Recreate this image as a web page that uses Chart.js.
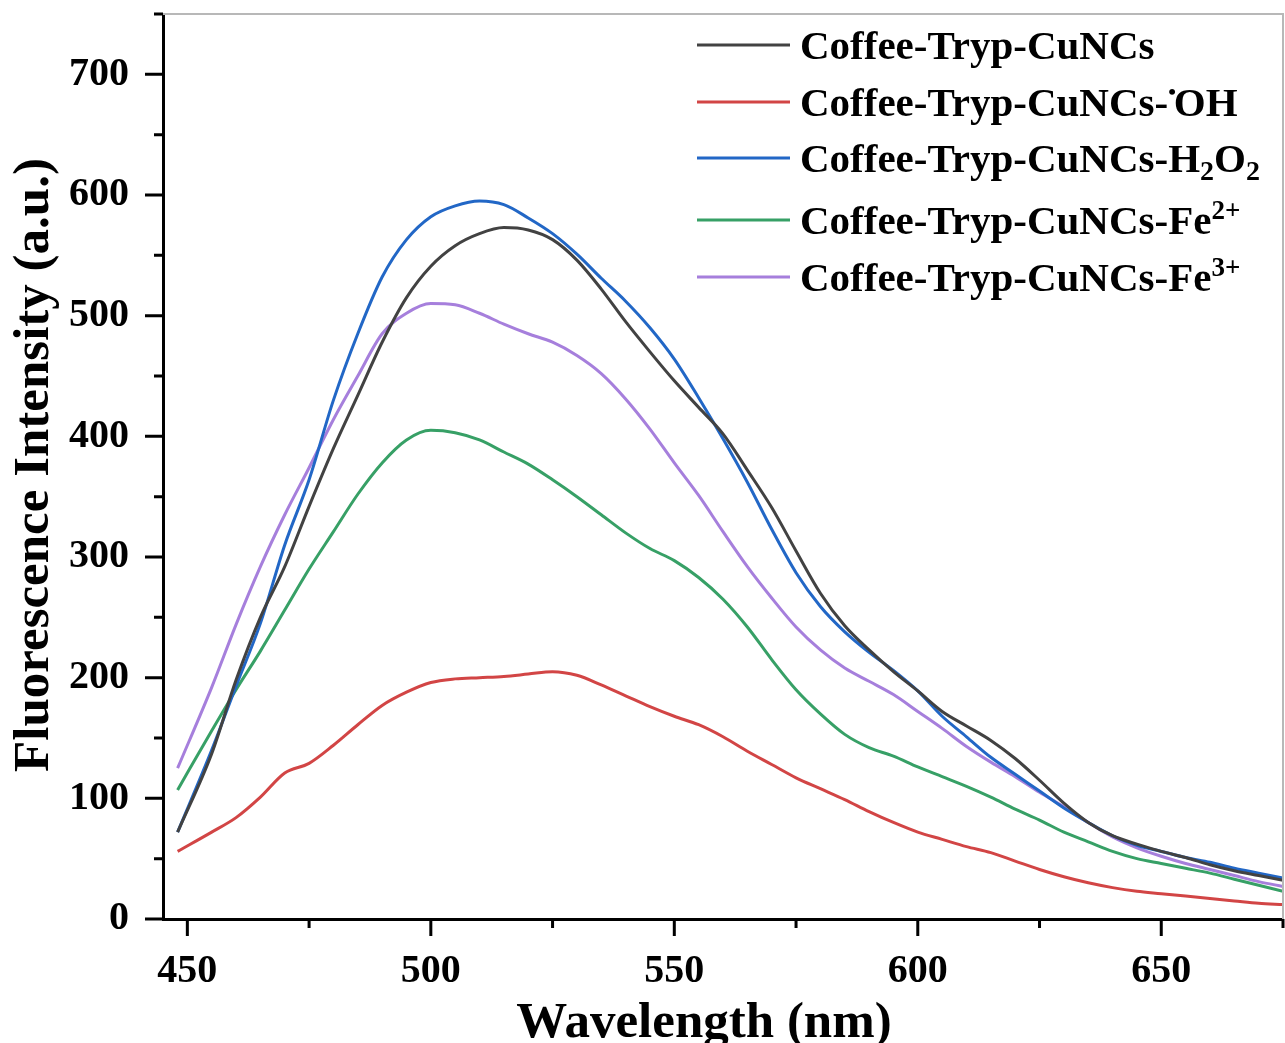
<!DOCTYPE html>
<html>
<head>
<meta charset="utf-8">
<title>Fluorescence spectra</title>
<script src="https://cdn.jsdelivr.net/npm/chart.js@4.4.1/dist/chart.umd.min.js"></script>
<style>
  html, body { margin: 0; padding: 0; background: #ffffff; }
  #wrap { position: relative; width: 1285px; height: 1043px; }
</style>
</head>
<body>
<div id="wrap"><canvas id="spectraChart"></canvas></div>
<script>
// wavelength grid (nm) shared by every spectrum
const wavelengths = [448, 455, 460, 465, 470, 475, 480, 485, 490, 495, 500, 505, 510, 515, 520, 525, 530, 535, 540, 545,
  550, 555, 560, 565, 570, 575, 580, 585, 590, 595, 600, 605, 610, 615, 620, 625, 630, 635, 640, 645,
  650, 655, 660, 665, 670, 675];

// fluorescence intensity (a.u.)
const cuNCs = [72, 137, 198, 250, 292, 342, 390, 434, 478, 515, 541, 558, 568, 573, 571, 563, 546, 522, 495, 470,
  446, 424, 402, 372, 341, 305, 270, 243, 223, 205, 189, 172, 160, 148, 133, 115, 96, 80, 69, 62,
  56, 51, 45, 40, 36, 32];
const cuNCsOH = [56, 72, 84, 101, 121, 129, 144, 161, 177, 188, 196, 199, 200, 201, 203, 205, 202, 194, 185, 176,
  168, 161, 151, 139, 128, 117, 108, 99, 89, 80, 72, 66, 60, 55, 48, 41, 35, 30, 26, 23,
  21, 19, 17, 15, 13, 12];
const cuNCsH2O2 = [72, 140, 193, 245, 310, 364, 430, 485, 532, 563, 582, 591, 595, 592, 581, 568, 551, 531, 512, 490,
  464, 432, 398, 362, 323, 287, 259, 238, 221, 206, 189, 168, 151, 134, 120, 106, 92, 80, 69, 61,
  56, 51, 47, 42, 38, 34];
const cuNCsFe2 = [107, 156, 190, 222, 256, 290, 321, 352, 378, 397, 405, 403, 397, 387, 377, 364, 350, 335, 320, 307,
  297, 283, 265, 242, 215, 190, 170, 153, 142, 135, 126, 118, 110, 101, 91, 82, 72, 64, 56, 50,
  46, 42, 38, 33, 28, 23];
const cuNCsFe3 = [125, 192, 244, 292, 335, 374, 414, 450, 485, 502, 510, 509, 502, 493, 485, 478, 467, 452, 431, 406,
  378, 351, 321, 292, 266, 242, 223, 208, 197, 186, 172, 158, 143, 130, 118, 105, 93, 80, 68, 59,
  52, 46, 41, 36, 31, 27];

const seriesNames = ['Coffee-Tryp-CuNCs', 'Coffee-Tryp-CuNCs-\u2022OH', 'Coffee-Tryp-CuNCs-H\u2082O\u2082',
  'Coffee-Tryp-CuNCs-Fe\u00b2\u207a', 'Coffee-Tryp-CuNCs-Fe\u00b3\u207a'];
const seriesValues = [cuNCs, cuNCsOH, cuNCsH2O2, cuNCsFe2, cuNCsFe3];
const seriesColors = ['#424242', '#d24545', '#2267c6', '#37a066', '#a67fdc'];

// legend text split into normal / sub / sup runs
const legendRuns = [
  [['Coffee-Tryp-CuNCs', '']],
  [['Coffee-Tryp-CuNCs-', ''], ['\u2022', 'dot'], ['OH', '']],
  [['Coffee-Tryp-CuNCs-H', ''], ['2', 'sub'], ['O', ''], ['2', 'sub']],
  [['Coffee-Tryp-CuNCs-Fe', ''], ['2+', 'sup']],
  [['Coffee-Tryp-CuNCs-Fe', ''], ['3+', 'sup']]
];

const xMajorTicks = [450, 500, 550, 600, 650];
const xMinorTicks = [475, 525, 575, 625, 675];
const yMajorTicks = [0, 100, 200, 300, 400, 500, 600, 700];
const yMinorTicks = [50, 150, 250, 350, 450, 550, 650, 750];

const serif = "'Liberation Serif', 'Times New Roman', 'DejaVu Serif', serif";

const axisDecor = {
  id: 'axisDecor',
  afterDraw(chart) {
    const { ctx, chartArea: area, scales: { x, y } } = chart;
    ctx.save();

    // thin grey frame on top and right
    ctx.strokeStyle = '#b8b8b8';
    ctx.lineWidth = 2;
    ctx.beginPath();
    ctx.moveTo(area.left, area.top);
    ctx.lineTo(area.right, area.top);
    ctx.lineTo(area.right, area.bottom);
    ctx.stroke();

    // outward tick marks
    ctx.strokeStyle = '#000000';
    ctx.lineWidth = 3;
    ctx.beginPath();
    xMajorTicks.forEach((v) => { const px = x.getPixelForValue(v); ctx.moveTo(px, area.bottom); ctx.lineTo(px, area.bottom + 17); });
    xMinorTicks.forEach((v) => { const px = x.getPixelForValue(v); ctx.moveTo(px, area.bottom); ctx.lineTo(px, area.bottom + 9); });
    yMajorTicks.forEach((v) => { const py = y.getPixelForValue(v); ctx.moveTo(area.left, py); ctx.lineTo(area.left - 18, py); });
    yMinorTicks.forEach((v) => { const py = y.getPixelForValue(v); ctx.moveTo(area.left, py); ctx.lineTo(area.left - 9, py); });
    ctx.stroke();

    // axis titles
    ctx.fillStyle = '#000000';
    ctx.font = `bold 51px ${serif}`;
    ctx.textAlign = 'center';
    ctx.textBaseline = 'alphabetic';
    ctx.fillText('Wavelength (nm)', 704, 1037);
    ctx.translate(48, 465);
    ctx.rotate(-Math.PI / 2);
    ctx.fillText('Fluorescence Intensity (a.u.)', 0, 0);
    ctx.restore();

    // legend
    ctx.save();
    const rowLines = [45, 102, 158, 220, 277];
    legendRuns.forEach((runs, i) => {
      const ly = rowLines[i];
      ctx.strokeStyle = seriesColors[i];
      ctx.lineWidth = 3;
      ctx.beginPath();
      ctx.moveTo(697, ly);
      ctx.lineTo(790, ly);
      ctx.stroke();

      let tx = 800;
      const base = ly + 14;
      ctx.fillStyle = '#000000';
      ctx.textAlign = 'left';
      ctx.textBaseline = 'alphabetic';
      runs.forEach(([text, mode]) => {
        let dy = 0;
        let size = 41;
        if (mode === 'sub') { size = 28; dy = 8; }
        if (mode === 'sup') { size = 27; dy = -15; }
        if (mode === 'dot') { size = 22; dy = -17; }
        ctx.font = `bold ${size}px ${serif}`;
        ctx.fillText(text, tx, base + dy);
        tx += ctx.measureText(text).width + (mode === 'dot' ? -2 : 0);
      });
    });
    ctx.restore();
  }
};

const datasets = seriesNames.map((name, i) => ({
  label: name,
  data: wavelengths.map((w, j) => ({ x: w, y: seriesValues[i][j] })),
  borderColor: seriesColors[i],
  backgroundColor: seriesColors[i],
  borderWidth: 3,
  pointRadius: 0,
  cubicInterpolationMode: 'monotone',
  fill: false
}));

new Chart(document.getElementById('spectraChart'), {
  type: 'line',
  data: { datasets },
  options: {
    responsive: true,
    maintainAspectRatio: false,
    animation: false,
    layout: { padding: { top: 14, right: 2, left: 0, bottom: 0 } },
    plugins: {
      legend: { display: false },
      tooltip: { enabled: false }
    },
    scales: {
      x: {
        type: 'linear',
        min: 445,
        max: 675,
        grid: { display: false },
        border: { display: true, color: '#000000', width: 3 },
        afterBuildTicks(scale) { scale.ticks = xMajorTicks.map((v) => ({ value: v })); },
        afterFit(scale) { scale.height = 124; scale.paddingLeft = 0; scale.paddingRight = 0; },
        ticks: {
          autoSkip: false,
          maxRotation: 0,
          padding: 21,
          color: '#000000',
          font: { family: serif, size: 40, weight: 'bold' }
        }
      },
      y: {
        type: 'linear',
        min: 0,
        max: 750,
        grid: { display: false },
        border: { display: true, color: '#000000', width: 3 },
        afterBuildTicks(scale) { scale.ticks = yMajorTicks.map((v) => ({ value: v })); },
        afterFit(scale) { scale.width = 163; scale.paddingTop = 0; scale.paddingBottom = 0; },
        ticks: {
          autoSkip: false,
          padding: 26,
          color: '#000000',
          font: { family: serif, size: 40, weight: 'bold' }
        }
      }
    }
  },
  plugins: [axisDecor]
});
</script>
</body>
</html>
